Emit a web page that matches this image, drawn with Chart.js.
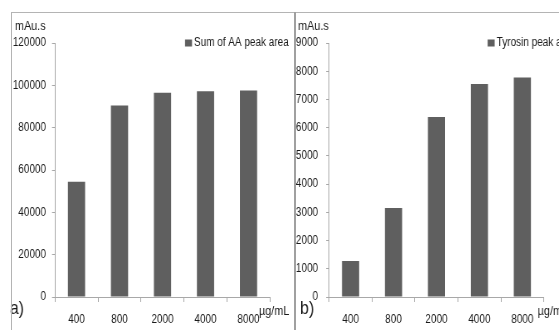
<!DOCTYPE html>
<html>
<head>
<meta charset="utf-8">
<script src="https://cdn.jsdelivr.net/npm/chart.js@4/dist/chart.umd.min.js"></script>
<style>
    html, body { margin: 0; padding: 0; background: #fff; }
    body { width: 559px; height: 330px; position: relative; overflow: hidden; }
    .line { position: absolute; background: #b4b4b4; z-index: 2; }
    .wrap { position: absolute; top: 13px; height: 317px; transform-origin: 0 0; }
</style>
</head>
<body>
<div class="line" style="left:11px;top:12px;width:548px;height:1px;"></div>
<div class="line" style="left:11px;top:12px;width:1px;height:318px;"></div>
<div class="line" style="left:294px;top:12px;width:2px;height:318px;background:#a0a0a0;"></div>
<div class="wrap" id="boxA"><canvas id="chartA"></canvas></div>
<div class="wrap" id="boxB"><canvas id="chartB"></canvas></div>
<script>
    // concentrations (µg/mL)
    var categories = ['400', '800', '2000', '4000', '8000'];
    // peak areas (mAu.s)
    var aaPeakArea = [54500, 90500, 96500, 97200, 97600];
    var tyrosinPeakArea = [1280, 3150, 6380, 7550, 7780];
    var aaTicks = [0, 20000, 40000, 60000, 80000, 100000, 120000];
    var tyrosinTicks = [0, 1000, 2000, 3000, 4000, 5000, 6000, 7000, 8000, 9000];

    var FONT = "'Liberation Sans', Arial, sans-serif";
    var BAR_COLOR = '#5f5f5f';
    var AXIS_COLOR = '#a8a8a8';
    var TEXT_COLOR = '#1a1a1a';
    var K = 0.83; // the original text is narrow, so the panels are squeezed sideways

    Chart.defaults.font.family = FONT;
    Chart.defaults.color = TEXT_COLOR;

    function setupBox(id, left, width) {
        var el = document.getElementById(id);
        el.style.left = left + 'px';
        el.style.width = (width / K) + 'px';
        el.style.transform = 'scaleX(' + K + ')';
    }
    setupBox('boxA', 0, 293);
    setupBox('boxB', 296, 263);

    var panelText = {
        id: 'panelText',
        afterDraw: function (chart, args, o) {
            var ctx = chart.ctx;
            ctx.save();
            ctx.textBaseline = 'middle';
            ctx.textAlign = 'left';
            ctx.fillStyle = TEXT_COLOR;
            ctx.font = "13px " + FONT;
            ctx.fillText('mAu.s', o.unitX / K, o.unitY);
            ctx.fillText('\u00b5g/mL', o.xUnitX / K, o.xUnitY);
            ctx.font = "19px " + FONT;
            ctx.fillText(o.letter, o.letterX / K, o.letterY);
            // legend
            ctx.fillStyle = BAR_COLOR;
            ctx.fillRect(o.legendX / K, o.legendY - 3.5, 7 / K, 7);
            ctx.fillStyle = TEXT_COLOR;
            ctx.font = "12px " + FONT;
            ctx.fillText(chart.data.datasets[0].label, (o.legendX + 9) / K, o.legendY);
            ctx.restore();
        }
    };

    function makeChart(id, label, values, ticks, layout, text) {
        var ctx = document.getElementById(id).getContext('2d');
        return new Chart(ctx, {
            type: 'bar',
            data: {
                labels: categories,
                datasets: [{
                    label: label,
                    data: values,
                    backgroundColor: BAR_COLOR,
                    borderWidth: 0,
                    barPercentage: 0.4,
                    categoryPercentage: 1.0
                }]
            },
            options: {
                responsive: true,
                maintainAspectRatio: false,
                animation: false,
                layout: {
                    padding: { left: 0, top: 30, right: layout.right / K, bottom: 0 }
                },
                plugins: {
                    legend: { display: false },
                    tooltip: { enabled: false },
                    panelText: text
                },
                scales: {
                    x: {
                        grid: {
                            offset: true,
                            drawOnChartArea: false,
                            drawTicks: true,
                            tickLength: 5,
                            color: AXIS_COLOR
                        },
                        border: { color: AXIS_COLOR },
                        ticks: {
                            padding: 10,
                            maxRotation: 0,
                            font: { size: 12 }
                        },
                        afterFit: function (s) { s.height = 33; }
                    },
                    y: {
                        min: ticks[0],
                        max: ticks[ticks.length - 1],
                        afterBuildTicks: function (s) {
                            s.ticks = ticks.map(function (v) { return { value: v }; });
                        },
                        grid: {
                            drawOnChartArea: false,
                            drawTicks: true,
                            tickLength: 3 / K,
                            color: AXIS_COLOR
                        },
                        border: { color: AXIS_COLOR },
                        ticks: {
                            padding: layout.yPad / K,
                            font: { size: 12 },
                            callback: function (v) { return String(v); }
                        },
                        afterFit: function (s) { s.width = layout.yWidth / K; }
                    }
                }
            },
            plugins: [panelText]
        });
    }

    makeChart('chartA', 'Sum of AA peak area', aaPeakArea, aaTicks,
        { right: 23, yWidth: 55, yPad: 6 },
        { unitX: 15, unitY: 13, letter: 'a)', letterX: 10, letterY: 296,
          xUnitX: 259, xUnitY: 298, legendX: 185, legendY: 30 });

    makeChart('chartB', 'Tyrosin peak area', tyrosinPeakArea, tyrosinTicks,
        { right: 16, yWidth: 33, yPad: 8 },
        { unitX: 2, unitY: 13, letter: 'b)', letterX: 4, letterY: 296,
          xUnitX: 241, xUnitY: 298, legendX: 191, legendY: 30 });
</script>
</body>
</html>
